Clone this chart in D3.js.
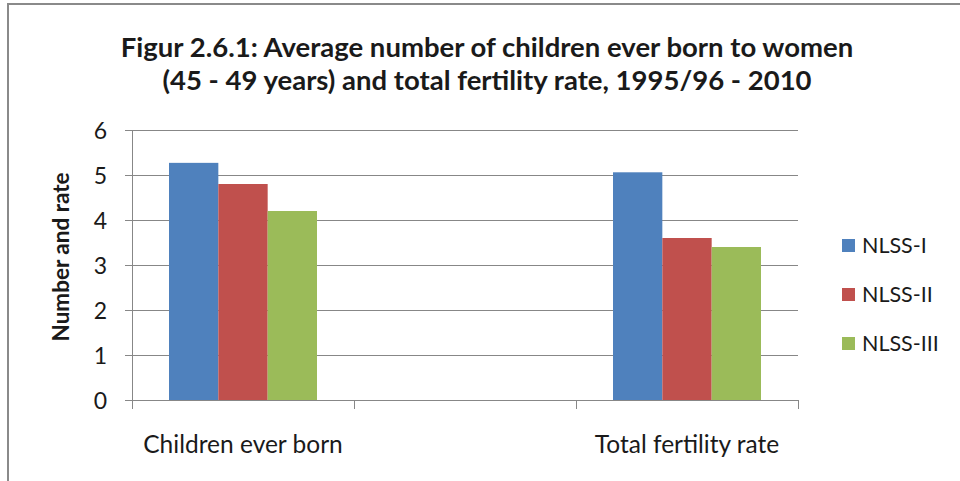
<!DOCTYPE html>
<meta charset="utf-8">
<style>
body { margin: 0; background: #fff; }
text { font-family: Lato, "Open Sans", sans-serif; fill: #1a1a1a; }
.title { font-weight: bold; font-size: 27.5px; }
.axis path, .axis line { fill: none; stroke: #878787; shape-rendering: crispEdges; }
.axis text { font-size: 23px; }
.grid line { stroke: #878787; shape-rendering: crispEdges; }
</style>
<body>
<script src="https://cdn.jsdelivr.net/npm/d3@7"></script>
<script>

// chart values
var categories = ["Children ever born", "", "Total fertility rate"];
var series = ["NLSS-I", "NLSS-II", "NLSS-III"];
var nlss1 = [5.27, null, 5.06];
var nlss2 = [4.8, null, 3.6];
var nlss3 = [4.2, null, 3.4];
var yTicks = [0, 1, 2, 3, 4, 5, 6];
var colors = ["#4F81BD", "#C0504D", "#9BBB59"];

var width = 960, height = 481;
var margin = {top: 130, right: 162, bottom: 81, left: 132};

var svg = d3.select("body").append("svg")
  .attr("width", width)
  .attr("height", height);

// outer frame (cut off at right and bottom like the picture)
svg.append("rect")
  .attr("x", 8).attr("y", 4)
  .attr("width", 1000).attr("height", 600)
  .attr("fill", "none")
  .attr("stroke", "#8a8a8a")
  .attr("stroke-width", 2);

var x = d3.scaleBand().domain(categories)
  .range([margin.left, width - margin.right]);
var xs = d3.scaleBand().domain(series)
  .range([0, x.bandwidth()]).paddingOuter(0.75);
var y = d3.scaleLinear().domain([0, 6])
  .range([height - margin.bottom, margin.top]);

// gridlines
svg.append("g").attr("class", "grid")
  .selectAll("line").data(yTicks.slice(1)).enter().append("line")
  .attr("x1", margin.left - 7).attr("x2", width - margin.right)
  .attr("y1", function(d) { return y(d); })
  .attr("y2", function(d) { return y(d); });

// bars
var values = [nlss1, nlss2, nlss3];
series.forEach(function(s, si) {
  svg.append("g").selectAll("rect")
    .data(categories.map(function(c, i) { return {c: c, v: values[si][i]}; })
      .filter(function(d) { return d.v != null; }))
    .enter().append("rect")
    .attr("x", function(d) { return x(d.c) + xs(s); })
    .attr("width", xs.bandwidth())
    .attr("y", function(d) { return y(d.v); })
    .attr("height", function(d) { return y(0) - y(d.v); })
    .attr("fill", colors[si]);
});

// y axis
var yAxis = svg.append("g").attr("class", "axis")
  .attr("transform", "translate(" + margin.left + ",0)")
  .call(d3.axisLeft(y).tickValues(yTicks).tickFormat(d3.format("d"))
    .tickSize(7).tickSizeOuter(0).tickPadding(18));
yAxis.selectAll("text").attr("dy", "0.36em");

// x axis: ticks on band edges
var xAxis = svg.append("g").attr("class", "axis")
  .attr("transform", "translate(0," + y(0) + ")");
xAxis.append("line")
  .attr("x1", margin.left - 7).attr("x2", width - margin.right);
var edges = categories.map(function(c) { return x(c); }).concat([width - margin.right]);
xAxis.selectAll(".tk").data(edges).enter().append("line")
  .attr("class", "tk")
  .attr("x1", function(d) { return d; }).attr("x2", function(d) { return d; })
  .attr("y1", 0).attr("y2", 9);
xAxis.selectAll(".lbl").data(categories).enter().append("text")
  .attr("class", "lbl")
  .attr("x", function(d) { return x(d) + x.bandwidth() / 2; })
  .attr("y", 53)
  .attr("text-anchor", "middle")
  .style("font-size", "24.5px")
  .text(function(d) { return d; });

// y title
svg.append("text")
  .attr("transform", "translate(69,257) rotate(-90)")
  .attr("text-anchor", "middle")
  .style("font-weight", "bold")
  .style("font-size", "22.5px")
  .text("Number and rate");

// title
svg.append("text").attr("class", "title")
  .attr("x", 487).attr("y", 57).attr("text-anchor", "middle")
  .text("Figur 2.6.1: Average number of children ever born to women");
svg.append("text").attr("class", "title")
  .attr("x", 487).attr("y", 90).attr("text-anchor", "middle")
  .text("(45 - 49 years) and total fertility rate, 1995/96 - 2010");

// legend
var legend = svg.append("g").selectAll("g").data(series).enter().append("g")
  .attr("transform", function(d, i) { return "translate(842," + (239 + i * 49) + ")"; });
legend.append("rect")
  .attr("width", 13).attr("height", 13)
  .attr("fill", function(d, i) { return colors[i]; });
legend.append("text")
  .attr("x", 20).attr("y", 14)
  .style("font-size", "21.5px")
  .text(function(d) { return d; });

</script>
